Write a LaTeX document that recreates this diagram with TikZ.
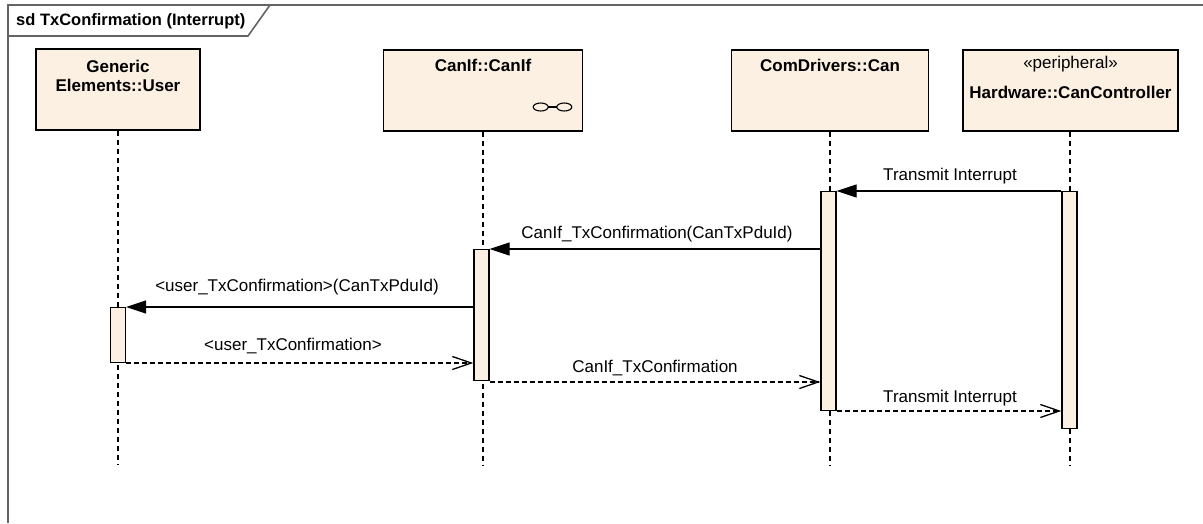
\documentclass[tikz,border=0pt]{standalone}
\usepackage{fontspec}
\setmainfont{Liberation Sans}
\usetikzlibrary{arrows.meta}
\definecolor{boxfill}{RGB}{251,240,226}
\definecolor{framegray}{RGB}{100,100,100}
\begin{document}
\begin{tikzpicture}[x=1pt,y=-1pt,
 every node/.style={font=\fontsize{17}{19}\selectfont, inner sep=0pt},
 head/.style={draw=black, line width=1.3pt, fill=boxfill, rectangle},
 act/.style={draw=black, line width=1.3pt, fill=boxfill, rectangle, minimum width=15pt},
 lifeline/.style={draw=black, line width=1.3pt, dash pattern=on 5pt off 4pt},
 callmsg/.style={draw=black, line width=1.3pt, -{Triangle[length=20pt,width=13pt]}},
 retmsg/.style={draw=black, line width=1.3pt, dash pattern=on 5pt off 3pt, -{Straight Barb[length=19pt,width=13pt,line width=1.3pt]}},
 headtitle/.style={font=\bfseries\fontsize{17}{19}\selectfont, align=center},
 framestyle/.style={draw=framegray, line width=1.6pt}
]
\useasboundingbox (0,0) rectangle (1203,523);
\fill[white] (0,0) rectangle (1203,523);

% frame
\draw[framestyle] (1203,5) -- (8,5) -- (8,523);
\draw[framestyle] (8,36) -- (248,36) -- (270,5);
\node[font=\bfseries\fontsize{16.5}{19}\selectfont, anchor=west] (title) at (16,21.5) {sd TxConfirmation (Interrupt)};

% lifeline heads
\node[head, minimum width=164pt, minimum height=81pt] (user) at (118,89.5) {};
\node[headtitle] (userT) at (118,75.5) {Generic\\Elements::User};

\node[head, minimum width=199pt, minimum height=81pt] (canif) at (483,90.5) {};
\node[headtitle] (canifT) at (483,65) {CanIf::CanIf};
\draw[line width=1.1pt] (540.7,107) ellipse [x radius=7.5pt, y radius=4pt];
\draw[line width=1.1pt] (564.3,107) ellipse [x radius=7.5pt, y radius=4pt];
\draw[line width=1.1pt] (548.2,107) -- (556.8,107);

\node[head, minimum width=197pt, minimum height=81pt] (can) at (830,90.5) {};
\node[headtitle] (canT) at (830,65) {ComDrivers::Can};

\node[head, minimum width=215pt, minimum height=81pt] (hw) at (1070.5,90.5) {};
\node (hwS) at (1070.5,64) {«peripheral»};
\node[headtitle] (hwT) at (1070.5,92) {Hardware::CanController};

% lifelines
\coordinate (userEnd) at (118,465);
\coordinate (canifEnd) at (483,465);
\coordinate (canEnd) at (830,465);
\coordinate (hwEnd) at (1070,465);
\draw[lifeline] (user.south) -- (userEnd);
\draw[lifeline] (canif.south) -- (canifEnd);
\draw[lifeline] (can.south) -- (canEnd);
\draw[lifeline] (hw.south -| hwEnd) -- (hwEnd);

% activations
\node[act, minimum height=55pt, anchor=north] (actUser) at (118,307) {};
\node[act, minimum height=131pt, anchor=north] (actIf) at (481.5,249) {};
\node[act, minimum height=219pt, anchor=north] (actCan) at (828.5,191) {};
\node[act, minimum height=237pt, anchor=north] (actHW) at (1069.5,191) {};

% messages
\draw[callmsg] (actHW.west |- 0,191) -- (actCan.east |- 0,191);
\node (m1) at (950,176) {Transmit Interrupt};

\draw[callmsg] (actCan.west |- 0,249) -- (actIf.east |- 0,249);
\node (m2) at (657,234) {CanIf\_TxConfirmation(CanTxPduId)};

\draw[callmsg] (actIf.west |- 0,307) -- (actUser.east |- 0,307);
\node (m3) at (297,287) {<user\_TxConfirmation>(CanTxPduId)};

\draw[retmsg] (actUser.east |- 0,363) -- (actIf.west |- 0,363);
\node (m4) at (293,346) {<user\_TxConfirmation>};

\draw[retmsg] (actIf.east |- 0,382) -- (actCan.west |- 0,382);
\node (m5) at (655,368) {CanIf\_TxConfirmation};

\draw[retmsg] (actCan.east |- 0,411) -- (actHW.west |- 0,411);
\node (m6) at (950,398) {Transmit Interrupt};
\end{tikzpicture}
\end{document}
